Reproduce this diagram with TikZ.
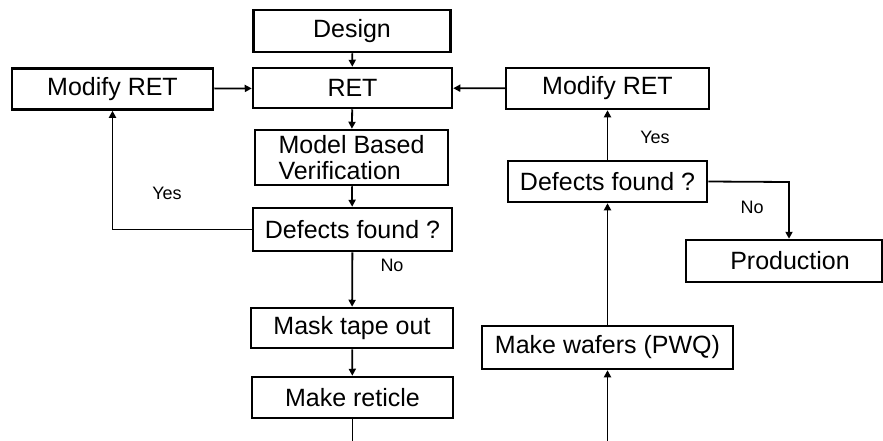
\documentclass[tikz,border=0pt]{standalone}
\usepackage{fontspec}
\setmainfont{Liberation Sans}
\usetikzlibrary{arrows.meta}

\tikzset{
  stepbox/.style={draw=black, line width=2.5pt, fill=white, inner sep=0pt,
    font=\fontsize{25}{28}\selectfont},
  flow/.style={line width=1.8pt, -{Triangle[length=7pt,width=7pt]}},
  plain/.style={line width=1.8pt},
  answer/.style={font=\fontsize{18}{20}\selectfont, inner sep=0pt}
}

\begin{document}
\begin{tikzpicture}[x=1pt, y=-1pt]
  \useasboundingbox[fill=white] (0,0) rectangle (883,440);

  % left column
  \node[stepbox, minimum width=197pt, minimum height=42pt] (design) at (352,31) {Design};
  \node[stepbox, minimum width=199pt, minimum height=40pt] (ret) at (352.5,88) {RET};
  \node[stepbox, minimum width=201pt, minimum height=41pt] (modL) at (112.5,89) {Modify RET};
  \node[stepbox, minimum width=193pt, minimum height=55pt, align=left,
        font=\fontsize{25}{26}\selectfont] (mbv) at (351.5,157.5) {Model Based\\Verification};
  \node[stepbox, minimum width=199pt, minimum height=43pt] (def1) at (352.5,229.5) {Defects found ?};
  \node[stepbox, minimum width=202pt, minimum height=40pt] (mask) at (352,328) {Mask tape out};
  \node[stepbox, minimum width=201pt, minimum height=41pt] (reticle) at (352.5,397.5) {Make reticle};

  % right column
  \node[stepbox, minimum width=203pt, minimum height=41pt] (modR) at (607.5,88.5) {Modify RET};
  \node[stepbox, minimum width=199pt, minimum height=41pt] (def2) at (607.5,181.5) {Defects found ?};
  \node[stepbox, minimum width=251pt, minimum height=43pt] (wafers) at (607.5,347.5) {Make wafers (PWQ)};
  \node[stepbox, minimum width=196pt, minimum height=42pt, text width=196pt, align=center] (prod) at (784,261)
    {\hspace*{12pt}Production};

  % loose ends at the bottom edge
  \coordinate (retOut) at (352.5,445);
  \coordinate (wafIn) at (607.5,445);
  \coordinate (noTurn) at (789,182);

  % connectors, left side
  \draw[flow] (design) -- (ret);
  \draw[flow] (ret) -- (mbv);
  \draw[flow] (mbv) -- (def1);
  \draw[flow] (def1.west) -| (modL.south);
  \draw[flow] (modL) -- (ret);
  \draw[flow] (def1) -- (mask);
  \draw[flow] (mask) -- (reticle);
  \draw[plain] (reticle.south) -- (retOut);

  % connectors, right side
  \draw[flow] (wafIn) -- (wafers.south);
  \draw[flow] (wafers) -- (def2);
  \draw[flow] (def2) -- (modR);
  \draw[flow] (modR) -- (ret);
  \draw[flow] (def2.east) -- (noTurn) -- (noTurn |- prod.north);

  % branch labels
  \node[answer] (yesL) at (167,193) {Yes};
  \node[answer] (noL) at (392,265) {No};
  \node[answer] (yesR) at (655,137) {Yes};
  \node[answer] (noR) at (752,207) {No};
\end{tikzpicture}
\end{document}
